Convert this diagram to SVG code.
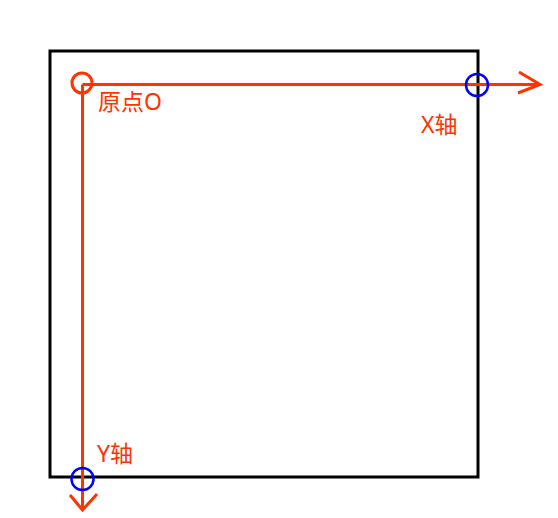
<svg xmlns="http://www.w3.org/2000/svg" width="558" height="518" viewBox="0 0 558 518">
<style>
.ax{stroke:#ff3300;stroke-width:3;fill:none}
.lbl{font-family:"Noto Sans","Noto Sans CJK SC",sans-serif;font-size:23px;fill:#ff3300}
.blue{stroke:#0000ff;stroke-width:2.5;fill:none}
</style>
<rect width="558" height="518" fill="#ffffff"/>
<g id="frame"><rect x="50" y="51" width="428" height="426" fill="none" stroke="#000" stroke-width="3"/></g>
<g id="connectors">
<line class="ax" x1="82.5" y1="84.5" x2="540" y2="84.5"/>
<polyline class="ax" points="519,72 540,84.5 518,93"/>
<line class="ax" x1="82.5" y1="84.5" x2="82.5" y2="510"/>
<polyline class="ax" points="70,495 82.5,510 97,494"/>
</g>
<g id="origin"><circle cx="82" cy="83" r="10" class="ax" stroke-width="2.5"/><text class="lbl" x="98" y="110">原点O</text></g>
<g id="xaxis"><circle cx="477" cy="85" r="11" class="blue"/><text class="lbl" x="421" y="133">X轴</text></g>
<g id="yaxis"><circle cx="82.5" cy="479" r="11" class="blue"/><text class="lbl" x="97" y="462">Y轴</text></g>
</svg>
